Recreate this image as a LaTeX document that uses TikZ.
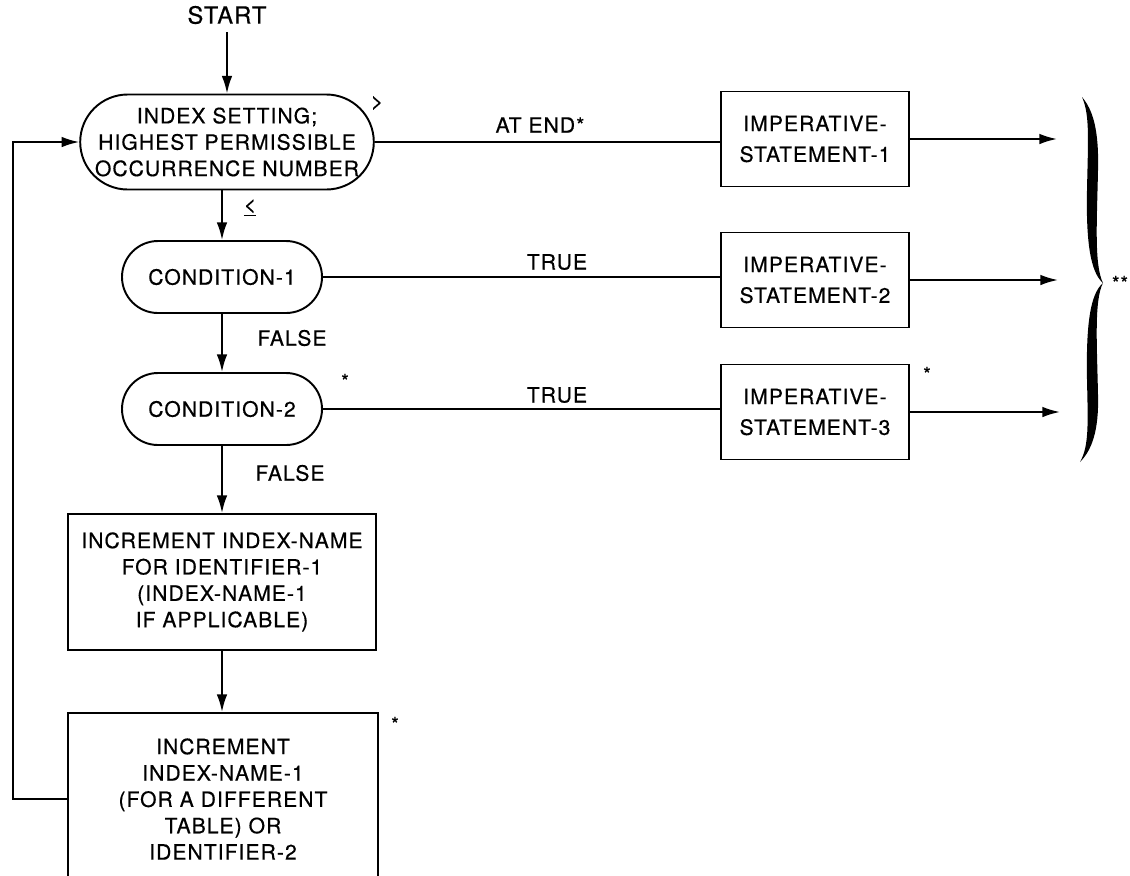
\documentclass[tikz,border=0pt]{standalone}
\usepackage{fontspec}
\setmainfont{TeX Gyre Heros}[LetterSpace=5, FakeBold=0.5]
\usetikzlibrary{arrows.meta, shapes.misc, positioning}
\tikzset{>={Latex[length=10pt, width=6pt]}}
\tikzset{
    every node/.style={font=\fontsize{12}{15}\selectfont, align=center, inner sep=0pt},
    term/.style={draw, rounded rectangle},
    stepbox/.style={draw, rectangle},
    impbox/.style={draw, rectangle, minimum width=37.6mm, minimum height=19mm, font=\fontsize{12}{17.5}\selectfont},
    star/.style={font=\fontsize{11}{11}\selectfont}
}

\begin{document}
\begin{tikzpicture}[x=0.2mm, y=-0.2mm, line width=1.1pt]
    \useasboundingbox (0, 0) rectangle (1130, 875);
    \clip (0, 0) rectangle (1130, 875);
    \node[inner sep=4pt, font=\fontsize{13.5}{15}\selectfont] (start) at (227, 15) {START};
    \node[term, minimum width=57mm, minimum height=19mm] (index) at (227, 142) {INDEX SETTING;\\HIGHEST PERMISSIBLE\\OCCURRENCE NUMBER};
    \node[term, minimum width=40mm, minimum height=14.4mm] (cond1) at (222, 277) {CONDITION-1};
    \node[term, minimum width=40mm, minimum height=14.4mm] (cond2) at (222, 409) {CONDITION-2};
    \node[stepbox, minimum width=61.6mm, minimum height=27.2mm] (incr) at (222, 582) {INCREMENT INDEX-NAME\\FOR IDENTIFIER-1\\(INDEX-NAME-1\\IF APPLICABLE)};
    \node[stepbox, minimum width=62mm, minimum height=34.4mm] (incrtab) at (223, 799) {INCREMENT\\INDEX-NAME-1\\(FOR A DIFFERENT\\TABLE) OR\\IDENTIFIER-2};
    \node[impbox] (imp1) at (815, 139) {IMPERATIVE-\\STATEMENT-1};
    \node[impbox] (imp2) at (815, 280) {IMPERATIVE-\\STATEMENT-2};
    \node[impbox] (imp3) at (815, 412) {IMPERATIVE-\\STATEMENT-3};
    \node (atend) at (540, 125) {AT END*};
    \node (true1) at (557, 262) {TRUE};
    \node (true2) at (557, 395) {TRUE};
    \node (false1) at (292, 338) {FALSE};
    \node (false2) at (290, 473) {FALSE};
    \node (gt) at (377, 103) {>};
    \node (le) at (250, 208) {\underline{<}};
    \node[star] (star1) at (345, 381) {*};
    \node[star] (star2) at (927, 374) {*};
    \node[star] (star3) at (395, 724) {*};
    \node[star] (star4) at (1120, 283) {**};
    \coordinate (end1) at (1057, 141);
    \coordinate (end2) at (1058, 280);
    \coordinate (end3) at (1060, 412);
    \coordinate (back) at (13, 0);
    \draw[->] (start.south) -- (start.south |- index.north);
    \draw[->] (cond1.north |- index.south) -- (cond1.north);
    \draw[->] (cond1.south) -- (cond2.north);
    \draw[->] (cond2.south) -- (incr.north);
    \draw[->] (incr.south) -- (incr.south |- incrtab.north);
    \draw (index.east) -- (index.east -| imp1.west);
    \draw (cond1.east) -- (cond1.east -| imp2.west);
    \draw (cond2.east) -- (cond2.east -| imp3.west);
    \draw[->] (imp1.east) -- (imp1.east -| end1);
    \draw[->] (imp2.east) -- (imp2.east -| end2);
    \draw[->] (imp3.east) -- (imp3.east -| end3);
    \draw[->] (incrtab.west) -- (incrtab.west -| back) |- (index.west);
    \fill (1082, 97) .. controls (1093, 110) and (1099, 130) .. (1098, 170) .. controls (1097, 220) and (1094, 265) .. (1103, 283)
        .. controls (1094, 300) and (1097, 345) .. (1098, 395) .. controls (1099, 430) and (1092, 450) .. (1080, 462)
        .. controls (1089, 446) and (1088, 425) .. (1087, 380) .. controls (1086, 325) and (1090, 294) .. (1103, 283)
        .. controls (1090, 272) and (1086, 240) .. (1087, 190) .. controls (1088, 140) and (1090, 115) .. (1082, 97) -- cycle;
\end{tikzpicture}
\end{document}
